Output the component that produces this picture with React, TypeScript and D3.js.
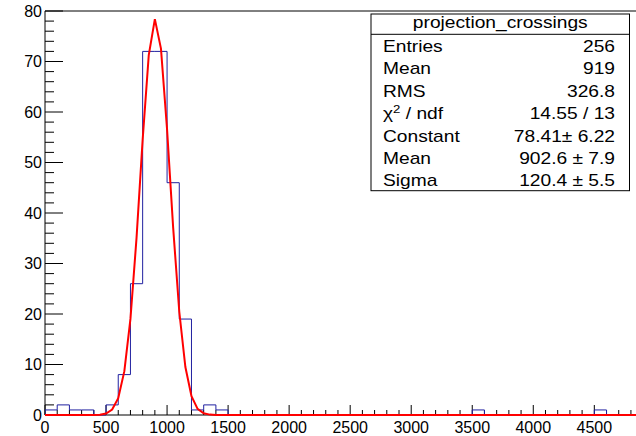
import React from "react";
import * as d3 from "d3";

// ---- Data ----
const HIST_TITLE = "projection_crossings";
const BIN_WIDTH = 100;
const X_MIN = 0;
const X_MAX = 5000;
// counts per 100-wide bin, starting at 0
const binCounts = [
  1, 2, 1, 1, 0, 2, 8, 26, 72, 72,
  46, 19, 1, 2, 1, 0, 0, 0, 0, 0,
  0, 0, 0, 0, 0, 0, 0, 0, 0, 0,
  0, 0, 0, 0, 0, 1, 0, 0, 0, 0,
  0, 0, 0, 0, 0, 1, 0, 0, 0, 0,
];
const xTicks = [0, 500, 1000, 1500, 2000, 2500, 3000, 3500, 4000, 4500];
const yTicks = [0, 10, 20, 30, 40, 50, 60, 70, 80];
const FIT_CONSTANT = 78.41;
const FIT_MEAN = 902.6;
const FIT_SIGMA = 120.4;
const FIT_NPX = 100;
const statLabels = ["Entries", "Mean", "RMS", "CHI", "Constant", "Mean", "Sigma"];
const statValues = ["256", "919", "326.8", "14.55 / 13", "78.41\u00b1 6.22", "902.6 \u00b1 7.9", "120.4 \u00b1 5.5"];

const W = 636;
const H = 436;
const FONT = "'Liberation Sans', Arial, Helvetica, sans-serif";

export default function App() {
  const x = d3.scaleLinear().domain([X_MIN, X_MAX]).range([45, 45 + 5000 * 0.12207]);
  const y = d3.scaleLinear().domain([0, 80]).range([415, 11]);

  // histogram step path
  const pts: [number, number][] = [];
  pts.push([X_MIN, 0]);
  binCounts.forEach((c, i) => {
    const lo = X_MIN + i * BIN_WIDTH;
    pts.push([lo, c]);
    pts.push([lo + BIN_WIDTH, c]);
  });
  pts.push([X_MAX, 0]);
  const histPath = d3.line<[number, number]>().x((d) => x(d[0])).y((d) => y(d[1]))(pts) || "";

  // fit function polyline
  const fitX = d3.range(0, FIT_NPX + 1).map((i) => X_MIN + ((X_MAX - X_MIN) * i) / FIT_NPX);
  const gaus = (v: number) => FIT_CONSTANT * Math.exp(-0.5 * ((v - FIT_MEAN) / FIT_SIGMA) ** 2);
  const fitPath = d3.line<number>().x((d) => x(d)).y((d) => y(gaus(d)))(fitX) || "";

  const xMinor = d3.range(X_MIN, X_MAX + 1, 100);
  const yMinor = d3.range(0, 81, 2);

  const box = { x0: 371, y0: 14, x1: 629.5, y1: 190.7, header: 34.3 };
  const rowH = (box.y1 - box.header) / statLabels.length;
  const sx = 1.2;

  return (
    <svg width={W} height={H} style={{ position: "absolute", left: 0, top: 0, background: "#fff" }} fontFamily={FONT}>
      <rect x={0} y={0} width={W} height={H} fill="#fff" />
      <defs>
        <clipPath id="plotclip">
          <rect x={45} y={0} width={W - 45} height={416} />
        </clipPath>
      </defs>
      {/* frame top */}
      <line x1={45} x2={W} y1={y(80)} y2={y(80)} stroke="#000" strokeWidth={1} />
      {/* y axis */}
      <line x1={45} x2={45} y1={y(0)} y2={y(80)} stroke="#000" strokeWidth={1} />
      {yMinor.map((v) => (
        <line key={"ym" + v} x1={45} x2={v % 10 === 0 ? 63 : 54} y1={y(v)} y2={y(v)} stroke="#000" strokeWidth={1} />
      ))}
      {yTicks.map((v) => (
        <text key={"yl" + v} x={42} y={y(v)} dy="0.36em" textAnchor="end" fontSize={16} fill="#000">
          {v}
        </text>
      ))}
      {/* x axis */}
      <line x1={45} x2={W} y1={y(0)} y2={y(0)} stroke="#000" strokeWidth={1} />
      {xMinor.map((v) => (
        <line key={"xm" + v} x1={x(v)} x2={x(v)} y1={y(0)} y2={y(0) - (v % 500 === 0 ? 10 : 5)} stroke="#000" strokeWidth={1} />
      ))}
      {xTicks.map((v) => (
        <text key={"xl" + v} x={x(v)} y={433} textAnchor="middle" fontSize={16} fill="#000">
          {v}
        </text>
      ))}
      <g clipPath="url(#plotclip)">
        <path d={histPath} fill="none" stroke="#2020a0" strokeWidth={1} />
        <path d={fitPath} fill="none" stroke="#ff0000" strokeWidth={2} />
      </g>
      {/* stats box */}
      <rect x={box.x0} y={box.y0} width={box.x1 - box.x0} height={box.y1 - box.y0} fill="#fff" stroke="#000" strokeWidth={1} />
      <line x1={box.x0} x2={box.x1} y1={box.header} y2={box.header} stroke="#000" strokeWidth={1} />
      <g transform={`translate(${(box.x0 + box.x1) / 2},28) scale(${sx},1)`}>
        <text textAnchor="middle" fontSize={16} fill="#000">{HIST_TITLE}</text>
      </g>
      {statLabels.map((lab, i) => {
        const by = box.header + rowH * (i + 1) - 4.5;
        return (
          <g key={"st" + i}>
            <g transform={`translate(383,${by}) scale(${sx},1)`}>
              {lab === "CHI" ? (
                <text fontSize={16} fill="#000">
                  {"\u03c7"}
                  <tspan fontSize={11} dy={-6}>2</tspan>
                  <tspan dy={6}>{" / ndf"}</tspan>
                </text>
              ) : (
                <text fontSize={16} fill="#000">{lab}</text>
              )}
            </g>
            <g transform={`translate(615,${by}) scale(${sx},1)`}>
              <text textAnchor="end" fontSize={16} fill="#000">{statValues[i]}</text>
            </g>
          </g>
        );
      })}
    </svg>
  );
}
